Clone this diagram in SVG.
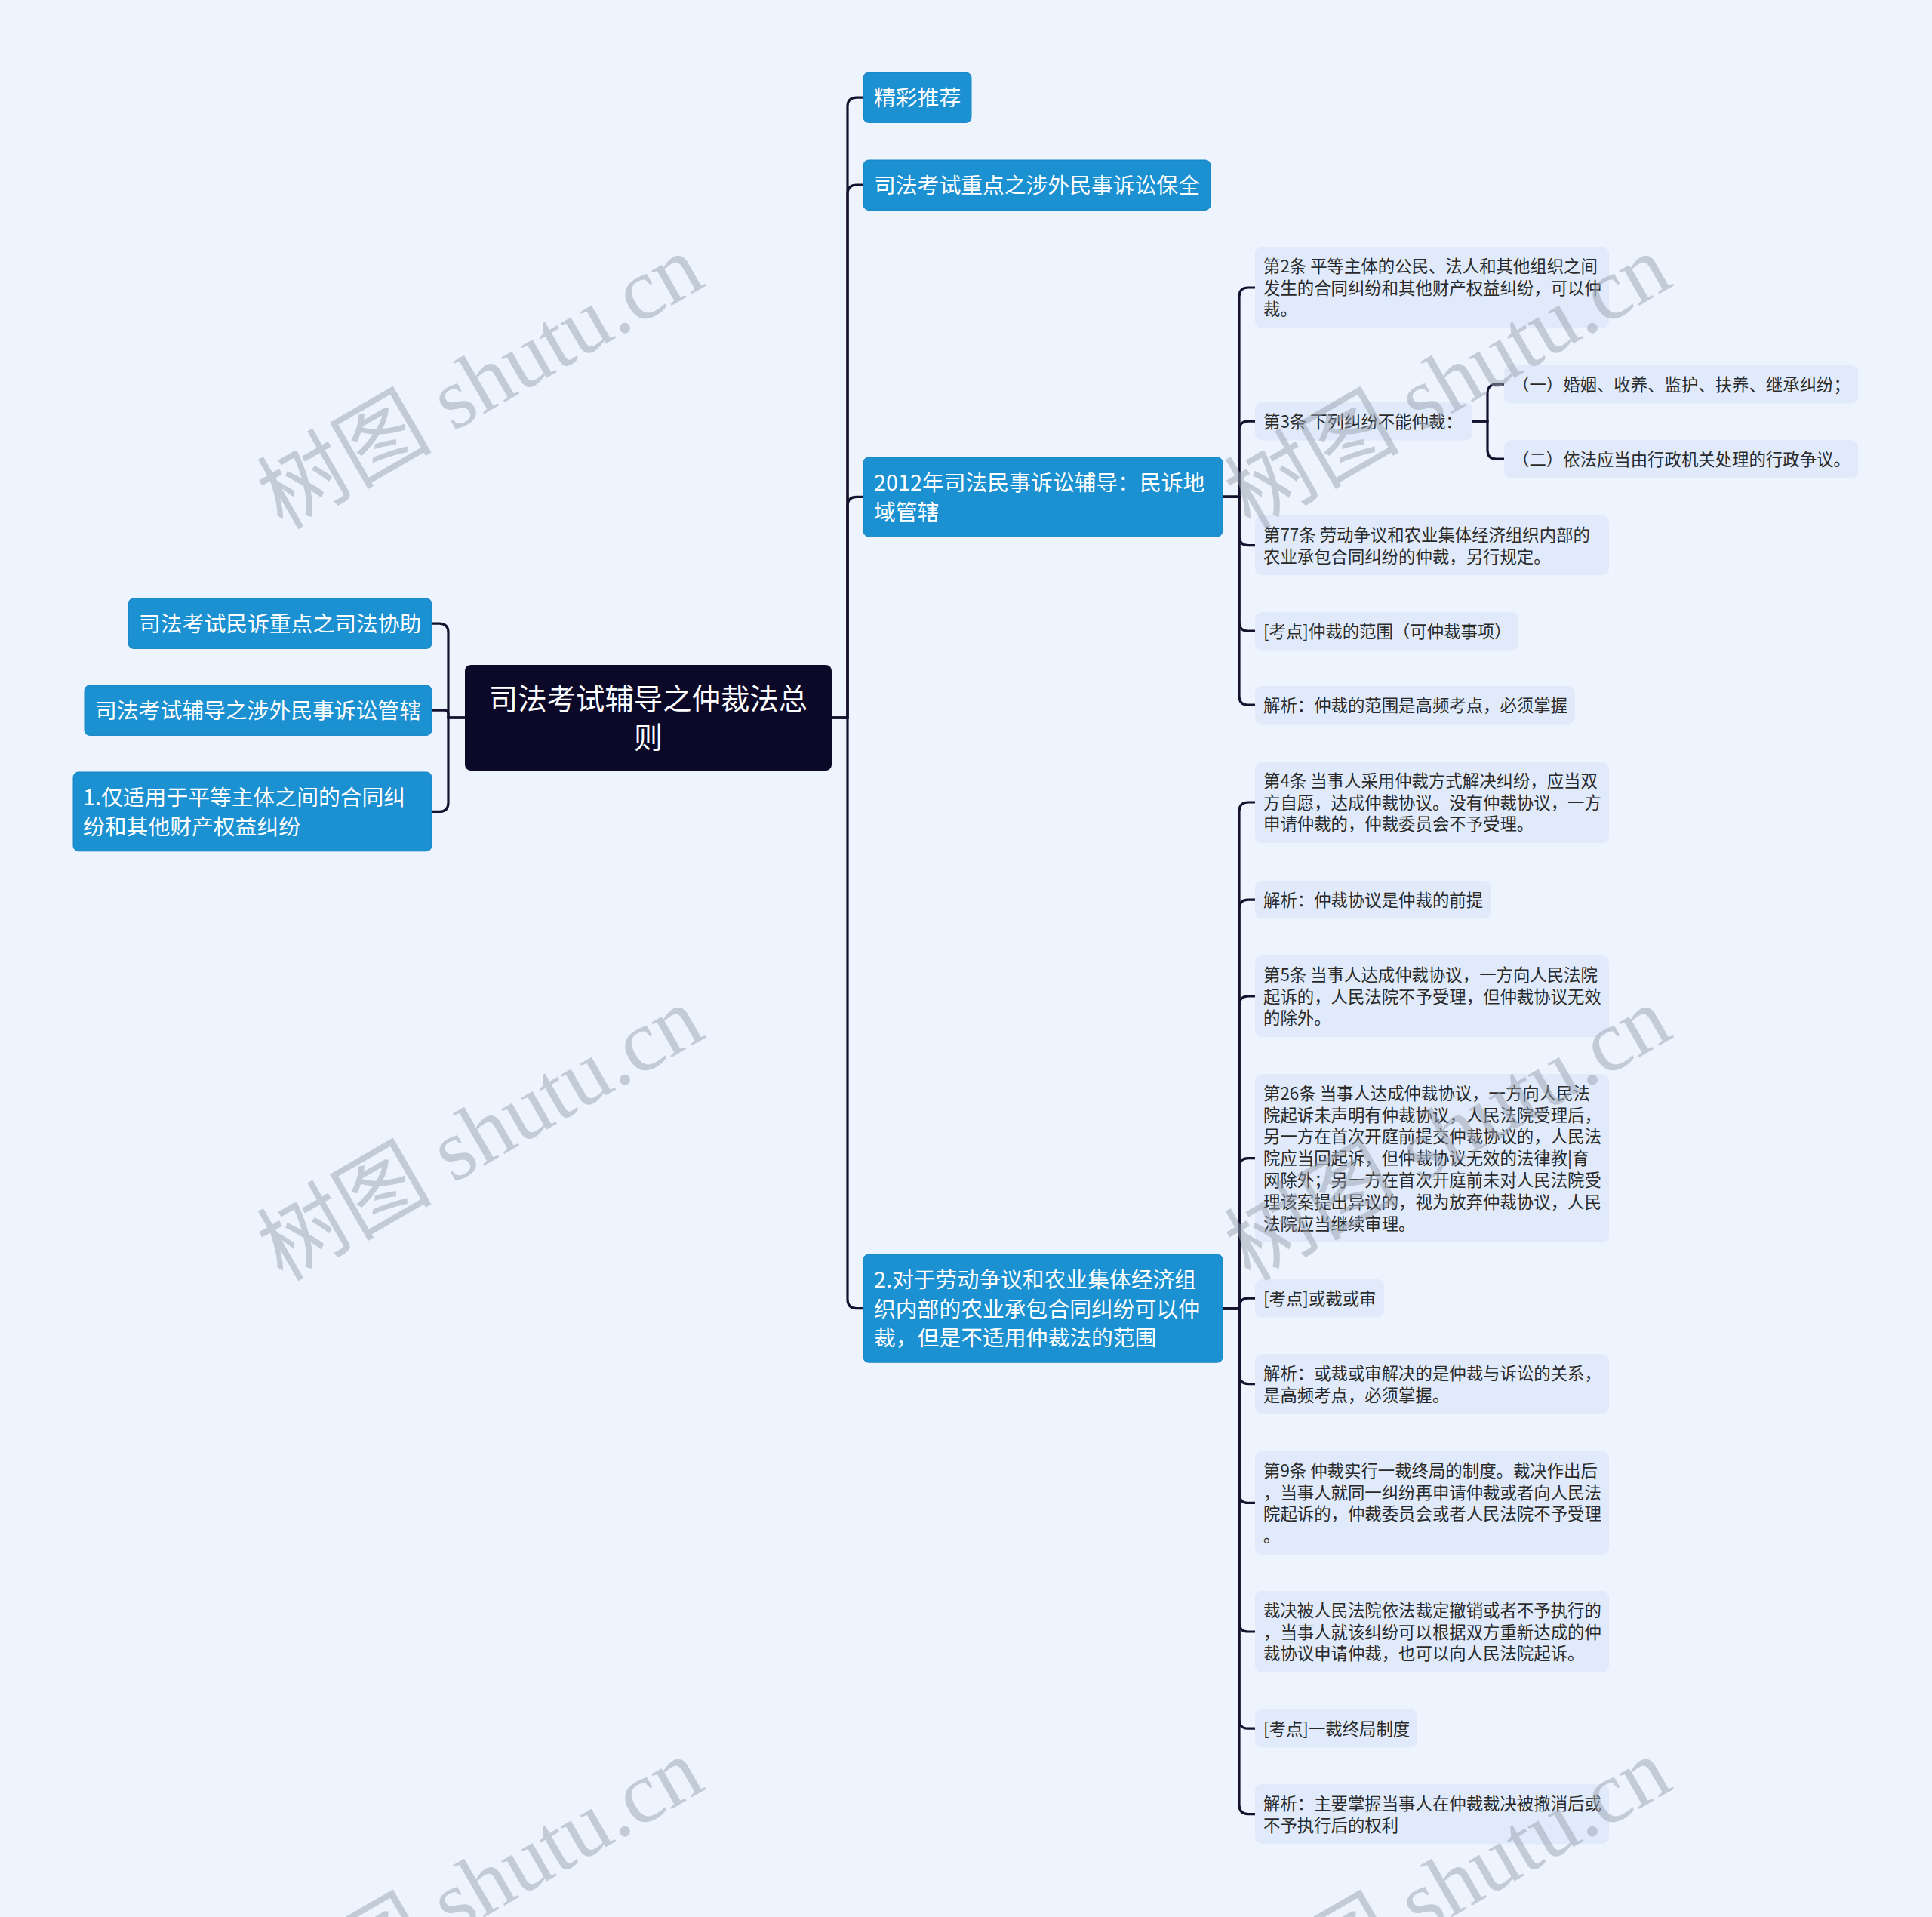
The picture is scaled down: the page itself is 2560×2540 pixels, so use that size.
<svg xmlns="http://www.w3.org/2000/svg" width="2560" height="2540" viewBox="0 0 2560 2540">
<style>
text{font-family:"Noto Sans CJK SC","Noto Sans",sans-serif;}
.bn{fill:#1b91d2;stroke:#1784c4;stroke-width:1;}
.bt{fill:#ffffff;font-size:28.8px;}
.ln{fill:#e0eafa;}
.lt{fill:#2a2a2a;font-size:22.4px;}
.root{fill:#0b0828;}
.rt{fill:#ffffff;font-size:38.4px;}
.c{fill:none;stroke:#14122e;stroke-width:3.2;}
.wm{font-family:"Liberation Serif","Noto Sans CJK SC",serif;font-size:116px;fill:#9aa3b2;opacity:0.5;}
</style>
<rect x="0" y="0" width="2560" height="2540" fill="#edf4fe"/>

<g id="connectors">
<path class="c" d="M1102 951 H1123 V141.2 Q1123 129.2 1135 129.2 H1144"/>
<path class="c" d="M1102 951 H1123 V257.2 Q1123 245.2 1135 245.2 H1144"/>
<path class="c" d="M1102 951 H1123 V670.4 Q1123 658.4 1135 658.4 H1144"/>
<path class="c" d="M1102 951 H1123 V1721.6 Q1123 1733.6 1135 1733.6 H1144"/>
<path class="c" d="M616 951 H594 V838.2 Q594 826.2 582 826.2 H572"/>
<path class="c" d="M616 951 H594 V946.2 Q594 941.2 589 941.2 H572"/>
<path class="c" d="M616 951 H594 V1063.4 Q594 1075.4 582 1075.4 H572"/>
<path class="c" d="M1620 658.4 H1642 V393 Q1642 381 1654 381 H1663"/>
<path class="c" d="M1620 658.4 H1642 V570.2 Q1642 558.2 1654 558.2 H1663"/>
<path class="c" d="M1620 658.4 H1642 V710.6 Q1642 722.6 1654 722.6 H1663"/>
<path class="c" d="M1620 658.4 H1642 V824.2 Q1642 836.2 1654 836.2 H1663"/>
<path class="c" d="M1620 658.4 H1642 V922.2 Q1642 934.2 1654 934.2 H1663"/>
<path class="c" d="M1951 558.2 H1971 V521.2 Q1971 509.2 1983 509.2 H1993"/>
<path class="c" d="M1951 558.2 H1971 V596.2 Q1971 608.2 1983 608.2 H1993"/>
<path class="c" d="M1620 1733.6 H1642 V1075 Q1642 1063 1654 1063 H1663"/>
<path class="c" d="M1620 1733.6 H1642 V1204.2 Q1642 1192.2 1654 1192.2 H1663"/>
<path class="c" d="M1620 1733.6 H1642 V1332 Q1642 1320 1654 1320 H1663"/>
<path class="c" d="M1620 1733.6 H1642 V1546.6 Q1642 1534.6 1654 1534.6 H1663"/>
<path class="c" d="M1620 1733.6 H1642 V1732.2 Q1642 1720.2 1654 1720.2 H1663"/>
<path class="c" d="M1620 1733.6 H1642 V1821.6 Q1642 1833.6 1654 1833.6 H1663"/>
<path class="c" d="M1620 1733.6 H1642 V1979.4 Q1642 1991.4 1654 1991.4 H1663"/>
<path class="c" d="M1620 1733.6 H1642 V2150 Q1642 2162 1654 2162 H1663"/>
<path class="c" d="M1620 1733.6 H1642 V2278.2 Q1642 2290.2 1654 2290.2 H1663"/>
<path class="c" d="M1620 1733.6 H1642 V2391.6 Q1642 2403.6 1654 2403.6 H1663"/>
</g>

<g id="root">
<rect class="root" x="616" y="881" width="486" height="140" rx="8"/>
<text class="rt" x="859" y="940" text-anchor="middle">司法考试辅导之仲裁法总</text>
<text class="rt" x="859" y="991.2" text-anchor="middle">则</text>
</g>

<g id="n-left1">
<rect class="bn" x="170" y="793" width="402" height="66.4" rx="7"/>
<text class="bt" x="184" y="837.1">司法考试民诉重点之司法协助</text>
</g>
<g id="n-left2">
<rect class="bn" x="112" y="908" width="460" height="66.4" rx="7"/>
<text class="bt" x="126" y="952.1">司法考试辅导之涉外民事诉讼管辖</text>
</g>
<g id="n-left3">
<rect class="bn" x="97" y="1023" width="475" height="104.8" rx="7"/>
<text class="bt" x="110" y="1067.1">1.仅适用于平等主体之间的合同纠</text>
<text class="bt" x="110" y="1105.5">纷和其他财产权益纠纷</text>
</g>

<g id="n-r1">
<rect class="bn" x="1144" y="96" width="143" height="66.4" rx="7"/>
<text class="bt" x="1158" y="140.1">精彩推荐</text>
</g>
<g id="n-r2">
<rect class="bn" x="1144" y="212" width="460" height="66.4" rx="7"/>
<text class="bt" x="1158" y="256.1">司法考试重点之涉外民事诉讼保全</text>
</g>
<g id="n-r3">
<rect class="bn" x="1144" y="606" width="476" height="104.8" rx="7"/>
<text class="bt" x="1158" y="650.1">2012年司法民事诉讼辅导：民诉地</text>
<text class="bt" x="1158" y="688.5">域管辖</text>
</g>
<g id="n-r4">
<rect class="bn" x="1144" y="1662" width="476" height="143.2" rx="7"/>
<text class="bt" x="1158" y="1706.1">2.对于劳动争议和农业集体经济组</text>
<text class="bt" x="1158" y="1744.5">织内部的农业承包合同纠纷可以仲</text>
<text class="bt" x="1158" y="1782.9">裁，但是不适用仲裁法的范围</text>
</g>

<g id="n-a1">
<rect class="ln" x="1663" y="327" width="469" height="108" rx="9"/>
<text class="lt" x="1674" y="360.7">第2条 平等主体的公民、法人和其他组织之间</text>
<text class="lt" x="1674" y="389.5">发生的合同纠纷和其他财产权益纠纷，可以仲</text>
<text class="lt" x="1674" y="418.3">裁。</text>
</g>
<g id="n-a2">
<rect class="ln" x="1663" y="533" width="288" height="50.4" rx="9"/>
<text class="lt" x="1674" y="566.7">第3条 下列纠纷不能仲裁：</text>
</g>
<g id="n-a2a">
<rect class="ln" x="1993" y="484" width="469" height="50.4" rx="9"/>
<text class="lt" x="2004" y="517.7">（一）婚姻、收养、监护、扶养、继承纠纷；</text>
</g>
<g id="n-a2b">
<rect class="ln" x="1993" y="583" width="469" height="50.4" rx="9"/>
<text class="lt" x="2004" y="616.7">（二）依法应当由行政机关处理的行政争议。</text>
</g>
<g id="n-a3">
<rect class="ln" x="1663" y="683" width="469" height="79.2" rx="9"/>
<text class="lt" x="1674" y="716.7">第77条 劳动争议和农业集体经济组织内部的</text>
<text class="lt" x="1674" y="745.5">农业承包合同纠纷的仲裁，另行规定。</text>
</g>
<g id="n-a4">
<rect class="ln" x="1663" y="811" width="349" height="50.4" rx="9"/>
<text class="lt" x="1674" y="844.7">[考点]仲裁的范围（可仲裁事项）</text>
</g>
<g id="n-a5">
<rect class="ln" x="1663" y="909" width="424" height="50.4" rx="9"/>
<text class="lt" x="1674" y="942.7">解析：仲裁的范围是高频考点，必须掌握</text>
</g>

<g id="n-b1">
<rect class="ln" x="1663" y="1009" width="469" height="108" rx="9"/>
<text class="lt" x="1674" y="1042.7">第4条 当事人采用仲裁方式解决纠纷，应当双</text>
<text class="lt" x="1674" y="1071.5">方自愿，达成仲裁协议。没有仲裁协议，一方</text>
<text class="lt" x="1674" y="1100.3">申请仲裁的，仲裁委员会不予受理。</text>
</g>
<g id="n-b2">
<rect class="ln" x="1663" y="1167" width="313" height="50.4" rx="9"/>
<text class="lt" x="1674" y="1200.7">解析：仲裁协议是仲裁的前提</text>
</g>
<g id="n-b3">
<rect class="ln" x="1663" y="1266" width="469" height="108" rx="9"/>
<text class="lt" x="1674" y="1299.7">第5条 当事人达成仲裁协议，一方向人民法院</text>
<text class="lt" x="1674" y="1328.5">起诉的，人民法院不予受理，但仲裁协议无效</text>
<text class="lt" x="1674" y="1357.3">的除外。</text>
</g>
<g id="n-b4">
<rect class="ln" x="1663" y="1423" width="469" height="223.2" rx="9"/>
<text class="lt" x="1674" y="1456.7">第26条 当事人达成仲裁协议，一方向人民法</text>
<text class="lt" x="1674" y="1485.5">院起诉未声明有仲裁协议，人民法院受理后，</text>
<text class="lt" x="1674" y="1514.3">另一方在首次开庭前提交仲裁协议的，人民法</text>
<text class="lt" x="1674" y="1543.1">院应当回起诉，但仲裁协议无效的法律教|育</text>
<text class="lt" x="1674" y="1571.9">网除外；另一方在首次开庭前未对人民法院受</text>
<text class="lt" x="1674" y="1600.7">理该案提出异议的，视为放弃仲裁协议，人民</text>
<text class="lt" x="1674" y="1629.5">法院应当继续审理。</text>
</g>
<g id="n-b5">
<rect class="ln" x="1663" y="1695" width="171" height="50.4" rx="9"/>
<text class="lt" x="1674" y="1728.7">[考点]或裁或审</text>
</g>
<g id="n-b6">
<rect class="ln" x="1663" y="1794" width="469" height="79.2" rx="9"/>
<text class="lt" x="1674" y="1827.7">解析：或裁或审解决的是仲裁与诉讼的关系，</text>
<text class="lt" x="1674" y="1856.5">是高频考点，必须掌握。</text>
</g>
<g id="n-b7">
<rect class="ln" x="1663" y="1923" width="469" height="136.8" rx="9"/>
<text class="lt" x="1674" y="1956.7">第9条 仲裁实行一裁终局的制度。裁决作出后</text>
<text class="lt" x="1674" y="1985.5">，当事人就同一纠纷再申请仲裁或者向人民法</text>
<text class="lt" x="1674" y="2014.3">院起诉的，仲裁委员会或者人民法院不予受理</text>
<text class="lt" x="1674" y="2043.1">。</text>
</g>
<g id="n-b8">
<rect class="ln" x="1663" y="2108" width="469" height="108" rx="9"/>
<text class="lt" x="1674" y="2141.7">裁决被人民法院依法裁定撤销或者不予执行的</text>
<text class="lt" x="1674" y="2170.5">，当事人就该纠纷可以根据双方重新达成的仲</text>
<text class="lt" x="1674" y="2199.3">裁协议申请仲裁，也可以向人民法院起诉。</text>
</g>
<g id="n-b9">
<rect class="ln" x="1663" y="2265" width="215" height="50.4" rx="9"/>
<text class="lt" x="1674" y="2298.7">[考点]一裁终局制度</text>
</g>
<g id="n-b10">
<rect class="ln" x="1663" y="2364" width="469" height="79.2" rx="9"/>
<text class="lt" x="1674" y="2397.7">解析：主要掌握当事人在仲裁裁决被撤消后或</text>
<text class="lt" x="1674" y="2426.5">不予执行后的权利</text>
</g>

<g id="watermarks">
<text class="wm" text-anchor="middle" transform="translate(656,540) rotate(-30)">树图 shutu.cn</text>
<text class="wm" text-anchor="middle" transform="translate(1938,540) rotate(-30)">树图 shutu.cn</text>
<text class="wm" text-anchor="middle" transform="translate(656,1536) rotate(-30)">树图 shutu.cn</text>
<text class="wm" text-anchor="middle" transform="translate(1938,1536) rotate(-30)">树图 shutu.cn</text>
<text class="wm" text-anchor="middle" transform="translate(656,2532) rotate(-30)">树图 shutu.cn</text>
<text class="wm" text-anchor="middle" transform="translate(1938,2532) rotate(-30)">树图 shutu.cn</text>
</g>
</svg>
